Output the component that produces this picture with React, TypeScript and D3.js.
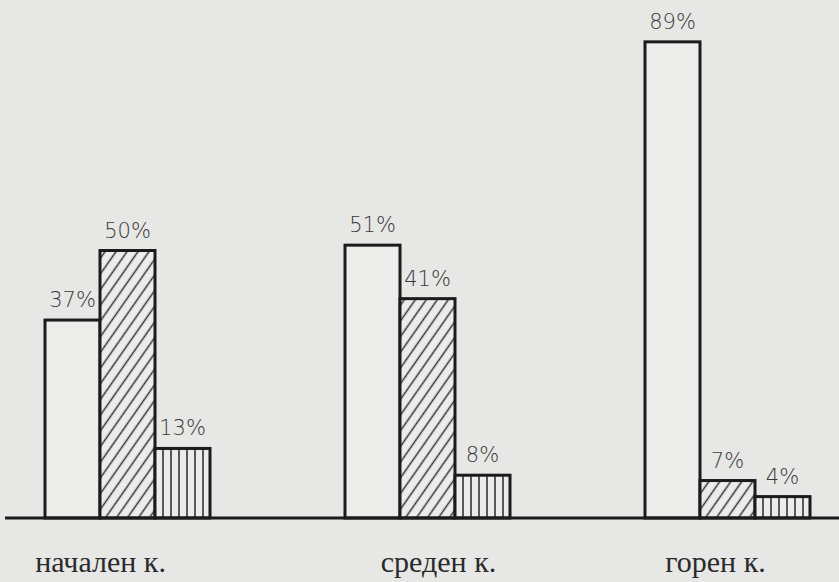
import React from "react";
import * as d3 from "d3";

const categories = ["начален к.", "среден к.", "горен к."];
const seriesKeys = ["plain", "diagonal", "vertical"];
const plainValues = [37, 51, 89];
const diagonalValues = [50, 41, 7];
const verticalValues = [13, 8, 4];
const valueLabels = [
  ["37%", "50%", "13%"],
  ["51%", "41%", "8%"],
  ["89%", "7%", "4%"],
];

const W = 839;
const H = 582;
const BASE = 518;
const labelNudge = [-27, 11, -12];

export default function App() {
  const x0 = d3.scaleBand<string>().domain(categories).range([45, 810]).paddingInner(0.45).paddingOuter(0);
  const x1 = d3.scaleBand<string>().domain(seriesKeys).range([0, x0.bandwidth()]).padding(0);
  const y = d3.scaleLinear().domain([0, 100]).range([BASE, BASE - 535]);
  const valuesBySeries = [plainValues, diagonalValues, verticalValues];
  const fills = ["#ececea", "url(#diag)", "url(#vert)"];

  return (
    <svg width={W} height={H} style={{ position: "absolute", left: 0, top: 0 }} xmlns="http://www.w3.org/2000/svg">
      <defs>
        <pattern id="diag" patternUnits="userSpaceOnUse" width={9} height={9} patternTransform="rotate(35)">
          <rect width={9} height={9} fill="#ececea" />
          <line x1={4.5} y1={0} x2={4.5} y2={9} stroke="#333" strokeWidth={1.5} />
        </pattern>
        <pattern id="vert" patternUnits="userSpaceOnUse" width={8} height={8} x={2}>
          <rect width={8} height={8} fill="#ececea" />
          <line x1={4} y1={0} x2={4} y2={8} stroke="#333" strokeWidth={1.6} />
        </pattern>
      </defs>
      <rect width={W} height={H} fill="#e7e7e5" />
      {categories.map((cat, ci) => (
        <g key={cat} transform={`translate(${x0(cat)},0)`}>
          {seriesKeys.map((s, si) => {
            const v = valuesBySeries[si][ci];
            const bx = x1(s)!;
            const bw = x1.bandwidth();
            return (
              <g key={s}>
                <rect
                  x={bx}
                  y={y(v)}
                  width={bw}
                  height={BASE - y(v)}
                  fill={fills[si]}
                  stroke="#1b1b1b"
                  strokeWidth={3}
                />
                <text
                  x={bx + bw / 2}
                  y={y(v) - 13}
                  textAnchor="middle"
                  fontFamily="'DejaVu Sans', sans-serif"
                  fontWeight={200}
                  fontSize={21}
                  fill="#3a3a3a"
                >
                  {valueLabels[ci][si]}
                </text>
              </g>
            );
          })}
          <text
            x={x0.bandwidth() / 2 + labelNudge[ci]}
            y={572}
            textAnchor="middle"
            fontFamily="'Liberation Serif', serif"
            fontSize={30}
            fill="#2a2a2a"
          >
            {cat}
          </text>
        </g>
      ))}
      <line x1={5} x2={W} y1={BASE} y2={BASE} stroke="#1b1b1b" strokeWidth={3} />
    </svg>
  );
}
